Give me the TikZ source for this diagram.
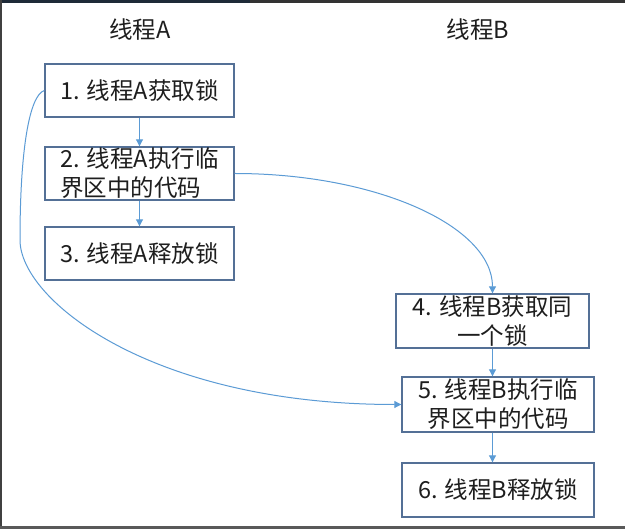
\documentclass[tikz,border=0pt]{standalone}
\usepackage{fontspec}
\setmainfont{Noto Sans CJK SC}
\usetikzlibrary{arrows.meta}
\definecolor{boxline}{RGB}{84,112,150}
\definecolor{connline}{RGB}{91,155,213}
\definecolor{txt}{RGB}{30,30,30}
\definecolor{topdark}{RGB}{30,42,56}
\begin{document}
\begin{tikzpicture}[x=1pt,y=-1pt,
  stepbox/.style={draw=boxline,line width=1.4pt,fill=white,inner sep=0pt,
    minimum width=189pt,minimum height=53pt,align=center,text=txt,
    font=\fontsize{23.5pt}{29pt}\selectfont},
  title/.style={text=txt,font=\fontsize{23.5pt}{29pt}\selectfont,inner sep=0pt},
  conn/.style={draw=connline,line width=1pt,-{Triangle[length=7pt,width=7pt]}}]
\useasboundingbox (0,0) rectangle (625,529);
\fill[white] (0,0) rectangle (625,529);
% screen frame
\fill[black!80] (0,0) rectangle (625,3);
\fill[topdark] (0,0) rectangle (250,3);
\fill[black!75] (0,0) rectangle (2,529);
\fill[black!65] (0,526.5) rectangle (625,529);
% titles
\node[title] (tA) at (140,30) {线程A};
\node[title] (tB) at (478,30) {线程B};
% boxes
\node[stepbox] (b1) at (139.5,90.5) {1. 线程A获取锁};
\node[stepbox,align=left] (b2) at (139.5,173.5) {2. 线程A执行临\\界区中的代码};
\node[stepbox] (b3) at (139.5,253.5) {3. 线程A释放锁};
\node[stepbox,minimum width=193pt,minimum height=54pt] (b4) at (492.5,321) {4. 线程B获取同\\一个锁};
\node[stepbox,minimum width=192pt,minimum height=55pt] (b5) at (498,404.5) {5. 线程B执行临\\界区中的代码};
\node[stepbox,minimum width=192pt,minimum height=54pt] (b6) at (498,490) {6. 线程B释放锁};
% straight connectors
\draw[conn] (b1.south) -- (b2.north);
\draw[conn] (b2.south) -- (b3.north);
\draw[conn] (b4.south) -- (b4.south |- b5.north);
\draw[conn] (b4.south |- b5.south) -- (b4.south |- b6.north);
% curved connectors
\draw[conn] (b2.east) .. controls +(142,0) and +(0,-67) .. (b4.north);
\coordinate (lc) at (20,240);
\draw[conn] (b1.west) .. controls +(-15,5) and +(0,-90) .. (lc)
  .. controls +(0,60) and +(-250,0) .. (b5.west);
\end{tikzpicture}
\end{document}
